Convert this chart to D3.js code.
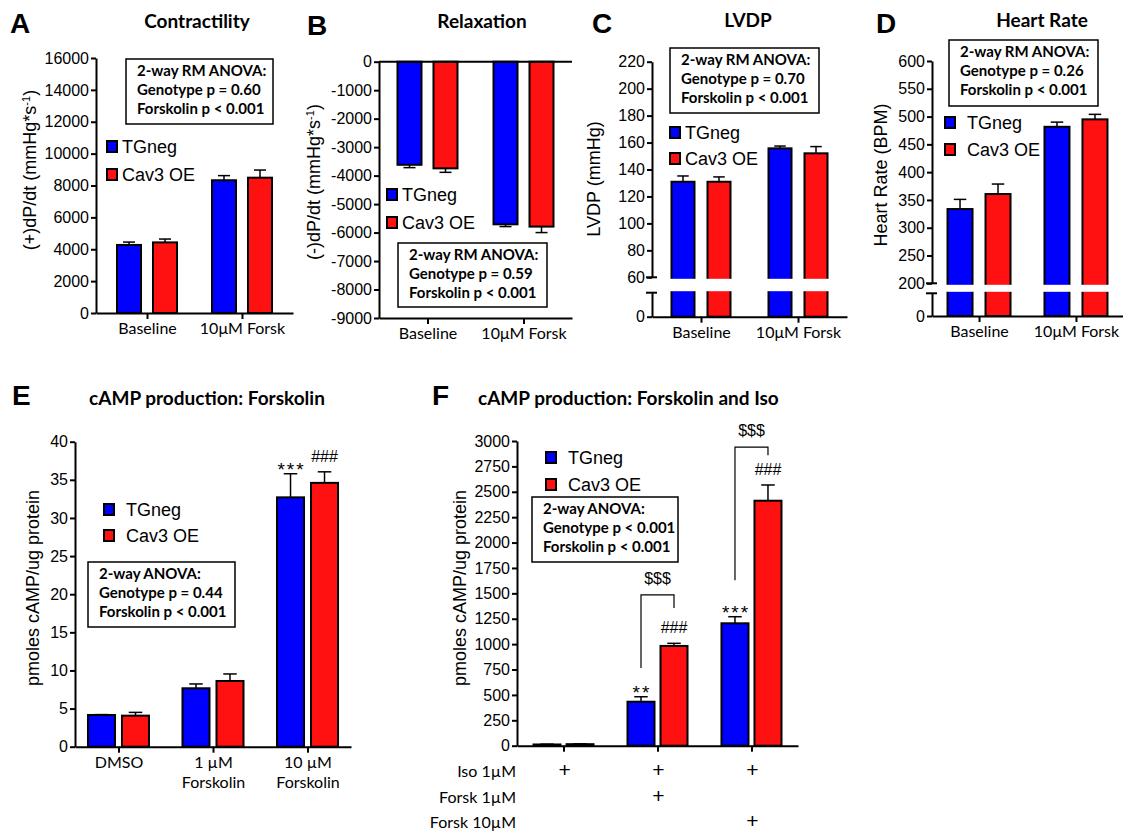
<!DOCTYPE html>
<html>
<head>
<meta charset="utf-8">
<script src="https://cdn.jsdelivr.net/npm/d3@7"></script>
<style>
  body { margin: 0; background: #fff; }
  svg { display: block; }
</style>
</head>
<body>
<svg id="fig"></svg>
<script>
// series
const seriesNames = ["TGneg", "Cav3 OE"];
const seriesColors = ["#0000ff", "#ff1111"];

// panels A-D: hemodynamics
const hemoGroups = ["Baseline", "10μM Forsk"];

const contractTG = [4270, 8330];
const contractTGErr = [180, 290];
const contractCav = [4430, 8490];
const contractCavErr = [210, 480];
const contractTicks = d3.range(0, 16001, 2000);

const relaxTG = [-3620, -5710];
const relaxTGErr = [100, 80];
const relaxCav = [-3745, -5790];
const relaxCavErr = [140, 210];
const relaxTicks = d3.range(0, -9001, -1000);

const lvdpTG = [130.9, 155.7];
const lvdpTGErr = [4.3, 1.7];
const lvdpCav = [130.9, 152];
const lvdpCavErr = [3.6, 5];
const lvdpTicks = d3.range(60, 221, 20);

const hrTG = [333.6, 481.6];
const hrTGErr = [17.4, 8.4];
const hrCav = [360.6, 495];
const hrCavErr = [18, 9];
const hrTicks = d3.range(200, 601, 50);

// panel E: cAMP with forskolin
const groupsE = ["DMSO", "1 µM|Forskolin", "10 µM|Forskolin"];
const campETG = [4.16, 7.66, 32.7];
const campETGErr = [0.05, 0.57, 3.1];
const campECav = [4.07, 8.62, 34.6];
const campECavErr = [0.43, 0.92, 1.45];
const annotETG = ["", "", "***"];
const annotECav = ["", "", "###"];
const ticksE = d3.range(0, 41, 5);

// panel F: cAMP with forskolin and iso
const groupsF = ["Iso", "Iso + Forsk 1µM", "Iso + Forsk 10µM"];
const campFTG = [12, 433, 1205];
const campFTGErr = [3, 49, 65];
const campFCav = [15, 982, 2412];
const campFCavErr = [3, 26, 155];
const annotFTG = ["", "**", "***"];
const annotFCav = ["", "###", "###"];
const ticksF = d3.range(0, 3001, 250);
const rowsF = ["Iso 1µM", "Forsk 1µM", "Forsk 10µM"];
const rowIso = [true, true, true];
const rowForsk1 = [false, true, false];
const rowForsk10 = [false, false, true];
// $$$ brackets (group index, leg bottoms and top in data units)
const bracketGroupF = [1, 2];
const bracketLeftF = [765, 1630];
const bracketTopF = [1485, 2940];
const bracketRightF = [1355, 2860];

const statsA = ["2-way RM ANOVA:", "Genotype p = 0.60", "Forskolin p < 0.001"];
const statsB = ["2-way RM ANOVA:", "Genotype p = 0.59", "Forskolin p < 0.001"];
const statsC = ["2-way RM ANOVA:", "Genotype p = 0.70", "Forskolin p < 0.001"];
const statsD = ["2-way RM ANOVA:", "Genotype p = 0.26", "Forskolin p < 0.001"];
const statsE = ["2-way ANOVA:", "Genotype p = 0.44", "Forskolin p < 0.001"];
const statsF = ["2-way ANOVA:", "Genotype p < 0.001", "Forskolin p < 0.001"];

const W = 1123, H = 832;
const tickFont = "'Liberation Sans', Arial, sans-serif";
const boldFont = "Lato, 'Open Sans', sans-serif";

const svg = d3.select("#fig").attr("width", W).attr("height", H);
svg.append("rect").attr("width", W).attr("height", H).attr("fill", "#fff");

function styleAxis(sel) {
  sel.select(".domain").attr("stroke", "#000").attr("stroke-width", 2);
  sel.selectAll(".tick line").attr("stroke", "#000").attr("stroke-width", 2);
  sel.selectAll(".tick text").attr("fill", "#000");
}

function drawPanel(p) {
  const g = svg.append("g");

  // group positions and bar offsets
  const x = d3.scalePoint().domain(p.groups).range([p.axisX, p.xEnd]).padding(p.pad);
  const half = p.barW + p.gap / 2;
  const inner = d3.scaleBand().domain(seriesNames).range([-half, half])
    .paddingInner(p.gap / (p.barW + p.gap));

  // value -> pixel (handles broken axis)
  const yv = v => (p.lower && v < p.brk) ? p.lower(v) : p.y(v);
  const base = p.lower ? p.lower(0) : p.y(0);

  p.series.forEach((s, si) => {
    const rows = p.groups.map((grp, i) => ({ grp, v: s.values[i], e: s.errs[i] }));
    const bx = d => x(d.grp) + inner(seriesNames[si]);
    const cx = d => bx(d) + inner.bandwidth() / 2;
    const sign = d => d.v < 0 ? -1 : 1;

    // error bars (drawn under the bars)
    g.selectAll(null).data(rows).join("line")
      .attr("x1", cx).attr("x2", cx)
      .attr("y1", d => yv(d.v)).attr("y2", d => yv(d.v + sign(d) * d.e))
      .attr("stroke", "#000").attr("stroke-width", 1.5);
    g.selectAll(null).data(rows).join("line")
      .attr("x1", d => cx(d) - inner.bandwidth() / 4)
      .attr("x2", d => cx(d) + inner.bandwidth() / 4)
      .attr("y1", d => yv(d.v + sign(d) * d.e)).attr("y2", d => yv(d.v + sign(d) * d.e))
      .attr("stroke", "#000").attr("stroke-width", 1.5);

    g.selectAll(null).data(rows).join("rect")
      .attr("x", bx)
      .attr("y", d => Math.min(yv(d.v), base))
      .attr("width", inner.bandwidth())
      .attr("height", d => Math.abs(base - yv(d.v)))
      .attr("fill", seriesColors[si])
      .attr("stroke", "#000")
      .attr("stroke-width", 2);

    // significance marks
    if (s.annot) {
      const star = d => d.t[0] === "*";
      g.selectAll(null).data(rows.map((d, i) => ({ ...d, t: s.annot[i] })).filter(d => d.t))
        .join("text")
        .attr("x", d => cx(d) + (star(d) ? 1 : 0))
        .attr("y", d => yv(d.v + d.e) + (star(d) ? 2 : -10))
        .attr("text-anchor", "middle")
        .attr("font-family", tickFont)
        .attr("font-size", d => star(d) ? 19 : 16)
        .attr("letter-spacing", d => star(d) ? 2 : 0)
        .text(d => d.t);
    }
  });

  // white gap through the bars for a broken axis
  if (p.lower) {
    g.append("rect")
      .attr("x", p.axisX - 3).attr("width", p.xEnd - p.axisX + 3)
      .attr("y", p.y(p.brk) + 1.5)
      .attr("height", p.lower(p.brk) - p.y(p.brk) - 3)
      .attr("fill", "#fff");
  }

  // y axis
  const yAx = g.append("g").attr("transform", `translate(${p.axisX},0)`)
    .call(d3.axisLeft(p.y).tickValues(p.ticks).tickSize(5).tickSizeOuter(0)
      .tickPadding(2).tickFormat(String))
    .attr("font-family", tickFont).attr("font-size", 16);
  styleAxis(yAx);

  if (p.lower) {
    const lowAx = g.append("g").attr("transform", `translate(${p.axisX},0)`)
      .call(d3.axisLeft(p.lower).tickValues([0]).tickSize(5).tickSizeOuter(0)
        .tickPadding(2).tickFormat(String))
      .attr("font-family", tickFont).attr("font-size", 16);
    styleAxis(lowAx);
    [p.y(p.brk), p.lower(p.brk)].forEach(yy => {
      g.append("line").attr("x1", p.axisX - 6).attr("x2", p.axisX + 5)
        .attr("y1", yy).attr("y2", yy).attr("stroke", "#000").attr("stroke-width", 2);
    });
  }

  // zero line when bars hang down
  if (p.zeroLine) {
    g.append("line").attr("x1", p.axisX).attr("x2", p.xEnd)
      .attr("y1", p.y(0)).attr("y2", p.y(0))
      .attr("stroke", "#000").attr("stroke-width", 2);
  }

  // x axis
  const xBase = p.zeroLine ? p.y(p.ticks[p.ticks.length - 1]) : base;
  const xAx = g.append("g").attr("transform", `translate(0,${xBase})`)
    .call(d3.axisBottom(x).tickSize(6).tickSizeOuter(0).tickPadding(4).tickFormat(""))
    .attr("font-family", boldFont).attr("font-size", 16);
  styleAxis(xAx);
  if (!p.noXLabels) {
    xAx.selectAll(".tick text").each(function (d) {
      const t = d3.select(this).attr("font-weight", 400);
      d.split("|").forEach((ln, i) => {
        t.append("tspan").attr("x", 0).attr("dy", i === 0 ? "0.71em" : "1.25em").text(ln);
      });
    });
  }

  // panel letter + title
  g.append("text").attr("x", p.letterX).attr("y", p.letterY)
    .attr("font-family", tickFont).attr("font-weight", 700).attr("font-size", 28)
    .text(p.letter);
  g.append("text").attr("x", p.titleX).attr("y", p.titleY)
    .attr("text-anchor", p.titleAnchor || "middle")
    .attr("font-family", boldFont).attr("font-weight", 700).attr("font-size", 19)
    .text(p.title);

  // y label
  const yl = g.append("text")
    .attr("transform", `translate(${p.yLabelX},${p.yLabelY}) rotate(-90)`)
    .attr("text-anchor", "middle").attr("dy", "0.35em")
    .attr("font-family", tickFont).attr("font-size", 18);
  p.yLabel.forEach(part => {
    const ts = yl.append("tspan").text(part.t);
    if (part.sup) ts.attr("font-size", 11).attr("baseline-shift", "super");
  });

  // legend
  seriesNames.forEach((name, i) => {
    const ly = p.legY + i * p.legStep;
    g.append("rect").attr("x", p.legX).attr("y", ly - 11).attr("width", 10).attr("height", 11)
      .attr("fill", seriesColors[i]).attr("stroke", "#000").attr("stroke-width", 2);
    g.append("text").attr("x", p.legX + 10 + p.legGap).attr("y", ly + 1)
      .attr("font-family", tickFont).attr("font-size", 18).text(name);
  });

  // stats box
  const sb = p.stats;
  g.append("rect").attr("x", sb.x).attr("y", sb.y).attr("width", sb.w).attr("height", sb.h)
    .attr("fill", "#fff").attr("stroke", "#000").attr("stroke-width", 1.5);
  g.selectAll(null).data(p.statsLines).join("text")
    .attr("x", sb.x + 11).attr("y", (d, i) => sb.y + 17 + i * 19)
    .attr("font-family", boldFont).attr("font-weight", 700).attr("font-size", 15)
    .text(d => d);

  return { g, x, inner, yv };
}

// A
drawPanel({
  letter: "A", letterX: 10, letterY: 33, title: "Contractility", titleX: 197, titleY: 28,
  groups: hemoGroups, axisX: 96, xEnd: 293, pad: 0.537, barW: 24, gap: 12,
  y: d3.scaleLinear().domain([0, 16000]).range([313, 58]), ticks: contractTicks,
  series: [{ values: contractTG, errs: contractTGErr }, { values: contractCav, errs: contractCavErr }],
  yLabel: [{ t: "(+)dP/dt (mmHg*s" }, { t: "-1", sup: true }, { t: ")" }], yLabelX: 30, yLabelY: 170,
  legX: 107, legY: 152, legStep: 28, legGap: 5,
  stats: { x: 126, y: 59, w: 147, h: 65 }, statsLines: statsA
});

// B
drawPanel({
  letter: "B", letterX: 307, letterY: 35, title: "Relaxation", titleX: 482, titleY: 28,
  groups: hemoGroups, axisX: 379, xEnd: 572, pad: 0.505, barW: 24, gap: 12,
  y: d3.scaleLinear().domain([-9000, 0]).range([318, 61.7]), ticks: relaxTicks, zeroLine: true,
  series: [{ values: relaxTG, errs: relaxTGErr }, { values: relaxCav, errs: relaxCavErr }],
  yLabel: [{ t: "(-)dP/dt (mmHg*s" }, { t: "-1", sup: true }, { t: ")" }], yLabelX: 314, yLabelY: 182,
  legX: 387, legY: 200, legStep: 28, legGap: 5,
  stats: { x: 398, y: 243, w: 149, h: 64 }, statsLines: statsB
});

// C
drawPanel({
  letter: "C", letterX: 592, letterY: 33, title: "LVDP", titleX: 748, titleY: 27,
  groups: hemoGroups, axisX: 652, xEnd: 847, pad: 0.505, barW: 23, gap: 13,
  y: d3.scaleLinear().domain([60, 220]).range([277.3, 61.7]), ticks: lvdpTicks,
  lower: d3.scaleLinear().domain([0, 60]).range([316.7, 292.7]), brk: 60,
  series: [{ values: lvdpTG, errs: lvdpTGErr }, { values: lvdpCav, errs: lvdpCavErr }],
  yLabel: [{ t: "LVDP (mmHg)" }], yLabelX: 594, yLabelY: 179,
  legX: 670, legY: 138, legStep: 26, legGap: 5,
  stats: { x: 670, y: 48, w: 149, h: 65 }, statsLines: statsC
});

// D
drawPanel({
  letter: "D", letterX: 876, letterY: 33, title: "Heart Rate", titleX: 1042, titleY: 27,
  groups: hemoGroups, axisX: 932, xEnd: 1123, pad: 0.485, barW: 25, gap: 13,
  y: d3.scaleLinear().domain([200, 600]).range([283.3, 61]), ticks: hrTicks,
  lower: d3.scaleLinear().domain([0, 200]).range([316, 293.3]), brk: 200,
  series: [{ values: hrTG, errs: hrTGErr }, { values: hrCav, errs: hrCavErr }],
  yLabel: [{ t: "Heart Rate (BPM)" }], yLabelX: 881, yLabelY: 175,
  legX: 945, legY: 128, legStep: 27, legGap: 12,
  stats: { x: 949, y: 40, w: 149, h: 66 }, statsLines: statsD
});

// E
drawPanel({
  letter: "E", letterX: 12, letterY: 405, title: "cAMP production: Forskolin", titleX: 207, titleY: 405,
  groups: groupsE, axisX: 75, xEnd: 351, pad: 0.46, barW: 27, gap: 7,
  y: d3.scaleLinear().domain([0, 40]).range([746.7, 441.7]), ticks: ticksE,
  series: [{ values: campETG, errs: campETGErr, annot: annotETG },
           { values: campECav, errs: campECavErr, annot: annotECav }],
  yLabel: [{ t: "pmoles cAMP/ug protein" }], yLabelX: 33, yLabelY: 588,
  legX: 104, legY: 515, legStep: 26, legGap: 12,
  stats: { x: 88, y: 562, w: 147, h: 65 }, statsLines: statsE
});

// F
const yF = d3.scaleLinear().domain([0, 3000]).range([745.7, 441]);
const pf = drawPanel({
  letter: "F", letterX: 432, letterY: 405, title: "cAMP production: Forskolin and Iso",
  titleX: 478, titleY: 405, titleAnchor: "start",
  groups: groupsF, axisX: 517, xEnd: 798, pad: 0.495, barW: 27, gap: 6, noXLabels: true,
  y: yF, ticks: ticksF,
  series: [{ values: campFTG, errs: campFTGErr, annot: annotFTG },
           { values: campFCav, errs: campFCavErr, annot: annotFCav }],
  yLabel: [{ t: "pmoles cAMP/ug protein" }], yLabelX: 460, yLabelY: 588,
  legX: 546, legY: 463, legStep: 27, legGap: 12,
  stats: { x: 532, y: 497, w: 146, h: 65 }, statsLines: statsF
});

// treatment rows under panel F
const rowFlags = [rowIso, rowForsk1, rowForsk10];
rowsF.forEach((lab, r) => {
  const yy = 777 + r * 25.5;
  pf.g.append("text").attr("x", 516).attr("y", yy).attr("text-anchor", "end")
    .attr("font-family", boldFont).attr("font-size", 16).text(lab);
  pf.g.selectAll(null).data(groupsF.filter((grp, i) => rowFlags[r][i])).join("text")
    .attr("x", d => pf.x(d) + 1).attr("y", yy)
    .attr("text-anchor", "middle").attr("font-family", tickFont).attr("font-size", 21)
    .text("+");
});

// $$$ brackets
bracketGroupF.forEach((gi, k) => {
  const grp = groupsF[gi];
  const bw = pf.inner.bandwidth();
  const xl = pf.x(grp) + pf.inner(seriesNames[0]) + bw / 2;
  const xr = pf.x(grp) + pf.inner(seriesNames[1]) + bw / 2;
  const yt = yF(bracketTopF[k]);
  pf.g.append("path")
    .attr("d", `M${xl},${yF(bracketLeftF[k])}V${yt}H${xr}V${yF(bracketRightF[k])}`)
    .attr("fill", "none").attr("stroke", "#000").attr("stroke-width", 1.2);
  pf.g.append("text").attr("x", (xl + xr) / 2).attr("y", yt - 11)
    .attr("text-anchor", "middle").attr("font-family", tickFont).attr("font-size", 16)
    .text("$$$");
});
</script>
</body>
</html>
